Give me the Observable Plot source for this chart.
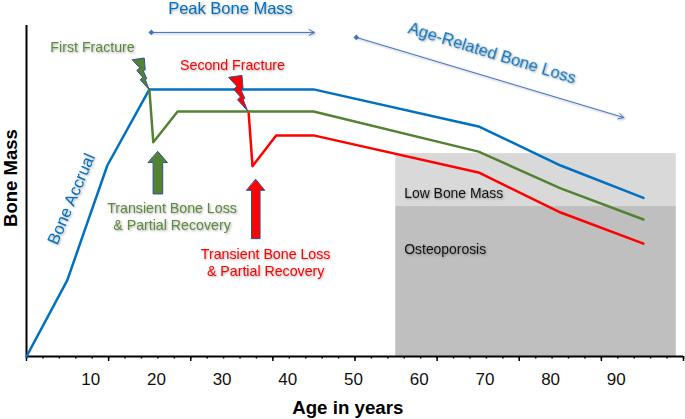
<!DOCTYPE html>
<html><head><meta charset="utf-8">
<script src="https://cdn.jsdelivr.net/npm/d3@7"></script>
<script src="https://cdn.jsdelivr.net/npm/@observablehq/plot@0.6"></script>
<style>html,body{margin:0;padding:0;background:#fff}svg{display:block}</style>
</head><body><div id="chart"></div>
<script>
const blueAge = [0, 6.2, 12.3, 18.7, 43.7, 68.8, 81.3, 93.9];
const blueMass = [0, 23.0, 57.7, 80.7, 80.7, 69.5, 57.7, 47.9];
const greenAge = [18.7, 19.3, 23, 43.7, 68.8, 81.3, 93.9];
const greenMass = [80.7, 64.7, 74, 74, 61.9, 50.8, 41.4];
const redAge = [33.8, 34.4, 38, 43.7, 68.8, 81.3, 93.9];
const redMass = [74, 57.5, 66.8, 66.8, 55.6, 43.5, 34.1];

const tickLabels = [10, 20, 30, 40, 50, 60, 70, 80, 90];
const majorTicks = [0, 12.5, 25, 37.5, 50, 62.5, 75, 87.5, 100];
const minorTicks = d3.range(0, 100.1, 2.5);

const zoneNames = ["Low Bone Mass", "Osteoporosis"];
const zoneStart = [56.2, 56.2], zoneEnd = [98.9, 98.9];
const zoneTop = [61.3, 45.3], zoneBottom = [45.3, 0];
const zoneFill = ["#d9d9d9", "#bfbfbf"];

const BLUE = "#0070c0", GREEN = "#548235", RED = "#ff0000", ARROW = "#4472c4", EDGE = "#2f528f";

const noteText = ["Peak Bone Mass", "First Fracture", "Second Fracture", "Bone Accrual", "Age-Related Bone Loss",
  "Transient Bone Loss\n& Partial Recovery", "Transient Bone Loss\n& Partial Recovery"];
const noteAge = [31.05, 10.05, 31.35, 6.7, 70.9, 22.15, 36.4];
const noteMass = [105.4, 93.65, 88.2, 47.7, 91.8, 42.3, 28.4];
const noteColor = [BLUE, "#5f8a3f", RED, BLUE, BLUE, "#5f8a3f", RED];
const noteRotate = [0, 0, 0, -67, 17, 0, 0];
const noteSize = [16.5, 14.2, 14.2, 16.5, 16.5, 14.2, 14.2];

// Annotation arrows: [from age, from mass, to age, to mass]
const spanArrows = [[19.0, 97.9, 43.8, 97.9], [50.2, 96.4, 90.9, 72.2]];

// Block arrows: centre age, tip, shoulder, base mass, half head, half shaft (age units)
const blockArrows = [
  {age: 20.0, tip: 61.9, shoulder: 58.6, base: 49.1, head: 1.45, shaft: 0.73, fill: GREEN},
  {age: 34.9, tip: 53.5, shoulder: 50.2, base: 35.6, head: 1.37, shaft: 0.65, fill: RED}
];
// Lightning bolt outline relative to its tip, in age / mass units
const boltDx = [-2.54, -0.76, -0.61, -0.91, -0.37, -0.61, 0, -1.37, -0.97, -1.89, -1.48];
const boltDy = [9.06, 9.58, 6.04, 5.74, 3.32, 3.11, 0, 3.02, 3.72, 5.83, 6.56];
const bolts = [
  {age: 18.68, mass: 80.6, scale: 1, fill: GREEN},
  {age: 33.65, mass: 74.2, scale: 1.12, fill: RED}
];

const zip = (xs, ys) => xs.map((x, i) => ({x, y: ys[i]}));
const shadow = "drop-shadow(1.5px 1.5px 1.2px rgba(0,0,0,0.35))";
const font = "'Liberation Sans', Arial, sans-serif";

const blockPoly = b => [
  {x: b.age, y: b.tip}, {x: b.age + b.head, y: b.shoulder}, {x: b.age + b.shaft, y: b.shoulder},
  {x: b.age + b.shaft, y: b.base}, {x: b.age - b.shaft, y: b.base}, {x: b.age - b.shaft, y: b.shoulder},
  {x: b.age - b.head, y: b.shoulder}
];
const boltPoly = b => boltDx.map((d, i) => ({x: b.age + d * b.scale, y: b.mass + boltDy[i] * b.scale}));
const shape = (pts, fill) => Plot.line(pts, {x: "x", y: "y", fill, stroke: EDGE, strokeWidth: 1, curve: "linear-closed"});

const chart = Plot.plot({
  width: 685, height: 419,
  marginTop: 25, marginBottom: 63, marginLeft: 26, marginRight: 2,
  style: {fontFamily: font, background: "#fff"},
  x: {domain: [0, 100], axis: null},
  y: {domain: [0, 100], axis: null},
  marks: [
    Plot.rect(zoneNames.map((n, i) => i), {
      x1: i => zoneStart[i], x2: i => zoneEnd[i], y1: i => zoneBottom[i], y2: i => zoneTop[i],
      fill: i => zoneFill[i]
    }),
    Plot.axisX({ticks: minorTicks, tickSize: 2.5, tickFormat: () => "", strokeWidth: 1.5, label: null}),
    Plot.axisX({ticks: majorTicks, tickSize: 5, tickFormat: () => "", strokeWidth: 1.5, label: null}),
    Plot.axisX({ticks: tickLabels, tickSize: 0, tickPadding: 16, fontSize: 17, dx: -1.5, fill: "#111", label: null}),
    Plot.ruleY([0], {stroke: "#000", strokeWidth: 2}),
    Plot.ruleX([0], {stroke: "#000", strokeWidth: 2}),
    Plot.line(zip(blueAge, blueMass), {x: "x", y: "y", stroke: BLUE, strokeWidth: 2.5}),
    Plot.line(zip(redAge, redMass), {x: "x", y: "y", stroke: RED, strokeWidth: 2.5}),
    Plot.line(zip(greenAge, greenMass), {x: "x", y: "y", stroke: GREEN, strokeWidth: 2.5}),
    ...blockArrows.map(b => shape(blockPoly(b), b.fill)),
    ...bolts.map(b => shape(boltPoly(b), b.fill)),
    Plot.arrow(spanArrows, {x1: d => d[0], y1: d => d[1], x2: d => d[2], y2: d => d[3],
      stroke: ARROW, strokeWidth: 1, headLength: 9, bend: 0, inset: 0, imageFilter: shadow}),
    Plot.dot(spanArrows, {x: d => d[0], y: d => d[1], symbol: "diamond2", r: 2.6, fill: ARROW}),
    Plot.text(noteText.map((t, i) => i), {
      x: i => noteAge[i], y: i => noteMass[i], text: i => noteText[i], fill: i => noteColor[i],
      rotate: i => noteRotate[i], fontSize: i => noteSize[i], lineHeight: 1.2, imageFilter: shadow
    }),
    Plot.text(zoneNames, {x: [57.5, 57.5], y: [49.1, 32.3], text: d => d, textAnchor: "start",
      fontSize: 13.9, fill: "#111", imageFilter: shadow}),
    Plot.text(["Age in years"], {x: [48.9], y: [-15.7], text: d => d, fontSize: 18.7, fontWeight: "bold", fill: "#000"}),
    Plot.text(["Bone Mass"], {x: [-2.3], y: [53.9], text: d => d, rotate: -90, fontSize: 18.5, fontWeight: "bold", fill: "#000"})
  ]
});
document.getElementById("chart").append(chart);
</script></body></html>
